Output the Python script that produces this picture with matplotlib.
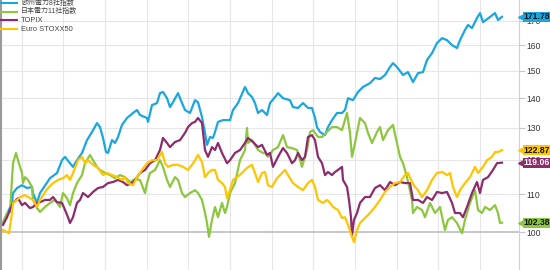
import matplotlib
matplotlib.use("Agg")
import matplotlib.pyplot as plt
import matplotlib.transforms as mtransforms
from matplotlib.ticker import FixedLocator, NullLocator, FixedFormatter
from matplotlib.lines import Line2D

plt.rcParams['font.family'] = ['Liberation Sans', 'Noto Sans CJK JP', 'DejaVu Sans']

# ---- data (trading-day index, index value, start = 100) ----
series_names = ["欧州電力8社指数", "日本電力11社指数", "TOPIX", "Euro STOXX50"]
series_colors = ["#1AA7E0", "#8DC63F", "#8C2C6C", "#FFC500"]
last_values = [171.78, 102.38, 119.06, 122.87]
tag_text_colors = ["#111111", "#111111", "#FFFFFF", "#111111"]

blue_day = [0, 4.5, 5, 7, 9.5, 12, 14.5, 15, 17, 18.5, 23.5, 27, 29.5, 31, 33.5, 35, 37, 39.5, 42, 44.5,
            47, 48.5, 50, 51.5, 52.5, 54.5, 56, 57.5, 59.5, 62, 65, 67, 68.5, 72, 72.5, 74.5, 77, 78.5, 80, 82,
            83.5, 85, 87.5, 89.5, 91, 93.5, 96, 97.5, 99.5, 101, 102, 103.5, 105, 106, 107.5, 110, 113.5, 115,
            117.5, 121, 122.5, 124.5, 126, 127.5, 129.5, 132, 133.5, 136, 137.5, 140, 143.5, 145, 147.5, 150,
            152.5, 154.5, 156, 157, 158.5, 161, 162.5, 164.5, 167, 169.5, 171, 172.5, 175, 177.5, 180, 183.5,
            186, 188.5, 191, 193.5, 195, 197, 200, 202.5, 205, 207.5, 210, 212, 214.5, 217, 219.5, 222, 224.5,
            227, 228.5, 231, 232.5, 234.5, 237, 238.5, 240, 243.5, 246, 247.5, 249.5]
blue_val = [102.3, 107.6, 110.3, 111.7, 112.5, 111.7, 112.0, 110.3, 107.6, 110.3, 114.5, 116.0, 119.8, 120.8,
            118.9, 117.8, 119.8, 122.0, 126.0, 128.6, 131.5, 130.2, 126.7, 122.3, 122.0, 126.0, 125.1, 127.0,
            130.9, 133.2, 134.9, 135.9, 134.2, 133.2, 131.9, 137.6, 138.3, 141.8, 142.2, 140.0, 136.9, 138.6,
            141.8, 138.3, 135.9, 134.9, 139.3, 138.6, 133.5, 128.3, 124.5, 127.0, 126.7, 128.6, 131.9, 132.5,
            132.5, 135.9, 138.3, 144.0, 141.8, 140.4, 138.3, 134.9, 135.9, 134.2, 138.3, 140.4, 141.8, 140.0,
            139.3, 136.9, 136.6, 138.3, 136.6, 136.6, 133.2, 130.2, 128.6, 127.6, 130.2, 132.5, 134.9, 134.9,
            135.9, 140.0, 139.3, 142.2, 144.0, 145.4, 147.3, 146.9, 148.4, 151.4, 152.9, 151.4, 148.4, 149.5,
            145.8, 149.1, 149.5, 154.1, 156.8, 160.8, 162.8, 162.0, 160.0, 158.8, 162.0, 166.2, 168.3, 167.0,
            171.3, 173.4, 169.5, 171.7, 173.4, 170.4, 171.78]

green_day = [0, 2, 3.5, 4.5, 5, 6.5, 7.5, 8.5, 9.5, 10, 11, 12.5, 14.5, 15, 17, 18.5, 21, 23.5, 26, 28.5, 30,
             32, 33.5, 35, 37, 39.5, 41, 43.5, 45, 47, 48.5, 51, 53.5, 56, 58.5, 61, 63.5, 66, 68.5, 71, 72,
             73.5, 76, 78.5, 80, 82, 83.5, 86, 87.5, 89.5, 91, 93.5, 96, 97.5, 99.5, 101, 102, 103, 104.5, 106,
             107.5, 109.5, 111, 112, 113.5, 116, 118.5, 121, 122, 122.5, 124.5, 126, 127.5, 130, 131, 132.5,
             135, 137.5, 140, 142, 144.5, 147, 149.5, 152, 153.5, 155, 157.5, 159.5, 162, 164.5, 167, 169.5,
             172, 173.5, 174.5, 176, 178.5, 181, 182.5, 184.5, 187, 188.5, 190, 192.5, 195, 197, 198.5, 200,
             202, 204.5, 205, 207, 209.5, 211, 213.5, 216, 218.5, 221, 222.5, 224.5, 227, 229.5, 231, 233.5,
             236, 237.5, 239.5, 241, 243.5, 246, 247.5, 248.5, 249.5]
green_val = [102.3, 104.9, 105.2, 114.0, 118.9, 122.0, 119.8, 117.8, 116.0, 113.1, 114.8, 114.0, 112.0, 108.4,
             106.2, 105.2, 106.5, 107.6, 108.4, 106.5, 110.3, 108.9, 107.0, 110.3, 113.1, 115.4, 118.9, 121.4,
             119.8, 117.8, 116.9, 116.0, 115.4, 114.5, 115.4, 114.8, 113.4, 114.2, 114.0, 110.3, 113.1, 116.0,
             116.9, 119.8, 117.8, 114.0, 112.0, 114.8, 114.0, 110.3, 109.2, 110.3, 111.1, 110.3, 108.4, 104.9,
             102.3, 98.8, 103.1, 106.5, 103.8, 107.6, 104.9, 106.5, 110.3, 113.1, 119.8, 122.9, 129.9, 125.1,
             126.0, 124.5, 122.9, 122.0, 122.0, 120.8, 122.9, 123.8, 127.6, 123.8, 123.5, 122.9, 117.8, 122.9,
             128.6, 129.2, 127.0, 127.0, 128.6, 130.2, 130.2, 129.2, 134.9, 128.3, 120.8, 125.1, 133.2, 131.5,
             128.3, 125.1, 128.6, 130.2, 126.0, 129.2, 130.9, 125.1, 120.8, 118.9, 114.8, 108.4, 104.9, 106.5,
             105.7, 103.8, 107.6, 104.9, 106.5, 100.5, 103.1, 103.8, 102.3, 99.7, 103.1, 107.6, 111.1, 105.7,
             104.9, 106.5, 105.7, 107.0, 104.9, 102.3, 102.38]

purple_day = [0, 2, 3.5, 5, 7.5, 9.5, 11, 13.5, 15, 17, 18.5, 21, 23.5, 25, 27, 29.5, 31, 32.5, 33.5, 35, 37,
              38.5, 40, 42.5, 45, 47.5, 50, 52.5, 55, 57.5, 60, 62, 64.5, 66, 68.5, 71, 73.5, 76, 78.5, 80, 82,
              83.5, 86, 88.5, 91, 92.5, 94.5, 96, 97.5, 99.5, 101, 102.5, 104.5, 106, 107.5, 109.5, 112, 113.5,
              116, 118.5, 121, 122.5, 125, 127.5, 129.5, 132, 133.5, 135, 137.5, 140, 142, 144.5, 146, 147.5,
              149.5, 151, 152.5, 154.5, 156, 157.5, 159.5, 161, 162.5, 164.5, 166, 167.5, 169.5, 170, 172, 173,
              174, 174.5, 175.5, 177, 178.5, 181, 183.5, 186, 188.5, 191, 193.5, 196, 198.5, 201, 203.5, 205,
              207.5, 210, 212, 214.5, 217, 219.5, 222, 224.5, 226, 228.5, 230, 232, 234.5, 237, 238.5, 240,
              242.5, 245, 247, 249.5]
purple_val = [101.8, 103.8, 105.7, 107.6, 108.9, 107.0, 107.6, 106.2, 106.5, 107.6, 107.8, 108.4, 108.4, 109.2,
              107.8, 107.6, 105.7, 103.8, 102.3, 103.8, 107.6, 108.4, 110.3, 109.2, 110.6, 111.7, 112.0, 113.1,
              113.4, 114.0, 113.4, 112.5, 113.1, 114.0, 116.0, 116.9, 118.9, 119.8, 122.9, 126.7, 125.1, 123.8,
              125.4, 126.0, 128.3, 130.2, 131.5, 131.9, 133.2, 131.5, 122.9, 120.8, 123.8, 122.9, 125.1, 122.0,
              118.9, 119.8, 122.0, 122.9, 125.1, 126.7, 125.4, 123.8, 124.5, 121.4, 122.0, 117.8, 120.8, 123.5,
              122.0, 118.9, 119.8, 122.0, 119.8, 120.8, 127.0, 127.6, 126.0, 120.8, 118.9, 115.4, 116.3, 115.4,
              116.3, 116.9, 117.8, 114.0, 112.0, 108.4, 103.8, 99.2, 103.1, 104.9, 107.6, 109.2, 109.2, 111.7,
              112.5, 111.1, 113.4, 112.5, 113.4, 113.1, 113.1, 108.4, 108.4, 107.6, 109.2, 108.4, 110.6, 110.3,
              110.6, 107.6, 104.9, 104.9, 103.8, 106.5, 110.3, 113.4, 110.3, 114.0, 114.8, 116.9, 118.9, 119.06]

yellow_day = [0, 2, 3, 4.5, 5, 7, 8.5, 11, 13.5, 15, 17, 18.5, 20, 22.5, 25, 27.5, 30, 32, 33.5, 35, 37.5,
              39.5, 41, 42.5, 45, 47.5, 50, 52, 54.5, 57, 59.5, 61, 62.5, 65, 67, 69.5, 72, 74.5, 77, 79.5, 81,
              82.5, 85, 87.5, 90, 92.5, 94.5, 96, 97.5, 99.5, 101, 102.5, 104.5, 106, 107.5, 109.5, 111, 112,
              113.5, 115, 117, 119.5, 122, 124.5, 126, 127.5, 129.5, 131, 132.5, 134.5, 137, 139.5, 141, 142.5,
              145, 147.5, 150, 152.5, 154.5, 156, 157.5, 160, 162, 163.5, 165, 167.5, 169.5, 171, 172.5, 174.5,
              175.5, 177, 178.5, 181, 183.5, 186, 188.5, 191, 193.5, 196, 198.5, 201, 202.5, 204.5, 206, 207.5,
              209.5, 212, 214.5, 217, 219.5, 222, 223.5, 225, 227, 228.5, 231, 233.5, 236, 237.5, 240, 242,
              244.5, 246, 247.5, 249.5]
yellow_val = [100.5, 100.0, 99.7, 104.9, 107.6, 108.4, 109.2, 109.7, 108.9, 108.4, 106.5, 108.4, 109.7, 111.7,
              113.1, 114.0, 114.5, 115.4, 114.0, 116.0, 119.8, 120.8, 118.9, 119.8, 118.4, 117.5, 115.4, 116.0,
              115.4, 114.8, 114.0, 114.8, 113.1, 112.5, 114.8, 116.9, 118.9, 119.8, 119.8, 122.3, 118.9, 117.8,
              118.4, 118.4, 117.8, 116.9, 118.4, 119.8, 121.4, 119.2, 114.8, 116.0, 116.9, 116.9, 114.0, 113.1,
              112.0, 108.9, 111.1, 114.0, 114.8, 116.0, 117.5, 118.4, 116.0, 113.4, 116.0, 116.3, 112.5, 112.0,
              114.5, 116.0, 116.9, 115.4, 113.1, 112.0, 111.1, 113.1, 114.0, 112.0, 108.4, 107.6, 108.4, 107.6,
              106.5, 105.7, 103.6, 103.8, 101.8, 98.8, 97.5, 100.5, 102.3, 103.6, 104.9, 106.5, 108.4, 110.6,
              112.0, 113.1, 113.4, 115.4, 116.0, 113.4, 112.0, 111.1, 109.2, 111.1, 114.0, 116.0, 116.3, 115.4,
              116.0, 112.0, 109.2, 111.1, 113.1, 114.8, 117.8, 116.0, 117.8, 119.8, 120.8, 122.3, 122.3, 122.87]

month_starts = [9.4, 30.2, 51.0, 71.9, 92.7, 113.5, 134.4, 155.2, 176.0, 196.9, 217.7, 238.5]
y_ticks = [100, 110, 120, 130, 140, 150, 160, 170]

series_days = [blue_day, green_day, purple_day, yellow_day]
series_vals = [blue_val, green_val, purple_val, yellow_val]

# ---- figure ----
fig = plt.figure(figsize=(5.5, 2.7), dpi=100)
ax = fig.add_axes([1 / 550, 0.0, 518 / 550, 1.0])
ax.set_facecolor("white")
ax.set_yscale("log")
ax.set_xlim(-1, 258)
ax.set_ylim(90.9, 179.2)

# grid
for m in month_starts:
    ax.axvline(m, color="#E6E6E6", lw=0.8, zorder=0)
for t in y_ticks[1:]:
    ax.axhline(t, color="#E6E6E6", lw=0.8, zorder=0)
ax.axhline(100, color="#B8B8B8", lw=1.1, zorder=0.5)

for d, v, c in zip(series_days, series_vals, series_colors):
    ax.plot(d, v, color=c, lw=1.6, solid_joinstyle="round", zorder=2)

# axes styling
for s in ["top", "bottom"]:
    ax.spines[s].set_visible(False)
ax.spines["left"].set_color("#9A9A9A")
ax.spines["left"].set_linewidth(1.5)
ax.spines["right"].set_color("#D0D0D0")
ax.spines["right"].set_linewidth(0.8)
ax.xaxis.set_major_locator(NullLocator())
ax.xaxis.set_minor_locator(NullLocator())
ax.yaxis.tick_right()
ax.yaxis.set_major_locator(FixedLocator(y_ticks))
ax.yaxis.set_minor_locator(NullLocator())
ax.yaxis.set_major_formatter(FixedFormatter([str(t) for t in y_ticks]))
ax.tick_params(axis="y", which="major", length=4, width=0.8, color="#C8C8C8",
               labelsize=6.2, labelcolor="#333333", pad=1)

# value tags on right
trans = mtransforms.blended_transform_factory(ax.transAxes, ax.transData)
for v, c, tc in zip(last_values, series_colors, tag_text_colors):
    ax.plot([1.003], [v], marker="<", ms=5.0, color=c, transform=trans, clip_on=False, zorder=5)
    ax.text(1.009, v, f"{v:.2f}", transform=trans, ha="left", va="center", fontsize=6.2,
            fontweight="bold", color=tc, zorder=6, clip_on=False,
            bbox=dict(boxstyle="square,pad=0.05", fc=c, ec="none"))

# legend (top-left)
legend_sizes = [5.0, 5.0, 5.4, 5.4]
for i, (name, c, fs) in enumerate(zip(series_names, series_colors, legend_sizes)):
    yy = 1 - (3.0 + 8.7 * i) / 270
    fig.add_artist(Line2D([1 / 550, 17 / 550], [yy, yy], transform=fig.transFigure, color=c, lw=1.5))
    fig.text(21 / 550, yy, name, fontsize=fs, color="#444444", va="center", ha="left")

fig.savefig("out.png", dpi=100)
